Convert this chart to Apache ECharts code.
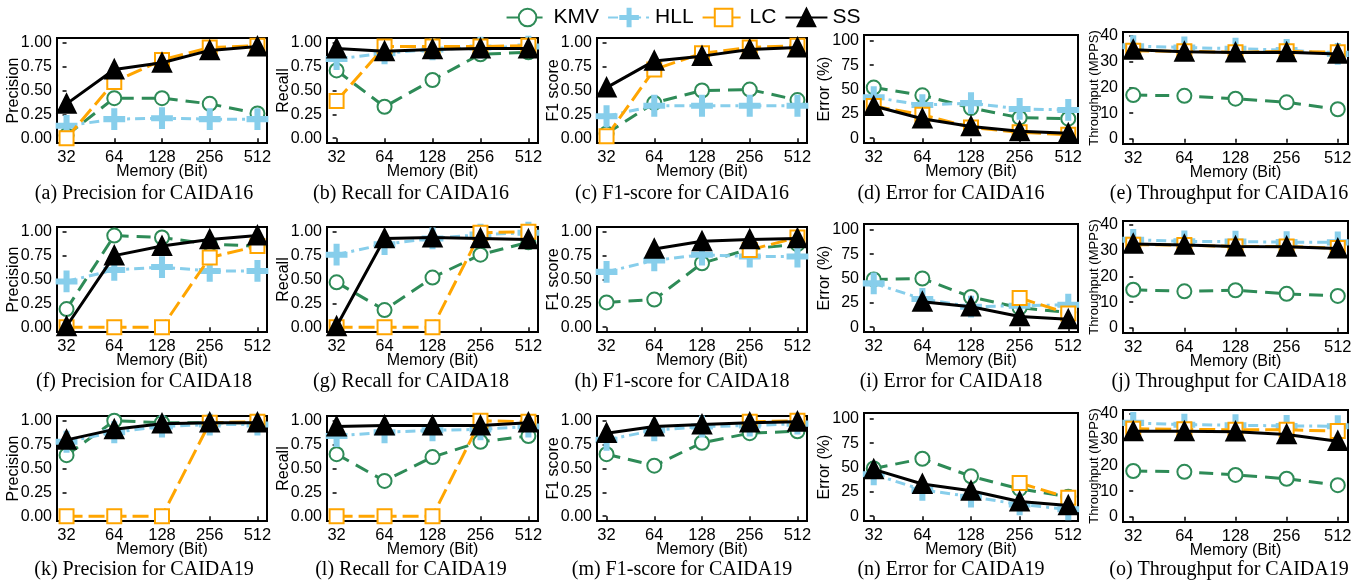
<!DOCTYPE html>
<html>
<head>
<meta charset="utf-8">
<script src="https://cdn.jsdelivr.net/npm/echarts@6/dist/echarts.min.js"></script>
<style>
  html, body { margin: 0; padding: 0; background: #fff; }
  #chart { width: 1366px; height: 583px; }
</style>
</head>
<body>
<div id="chart"></div>
<script>
// x categories (memory in bits)
const memory = ['32', '64', '128', '256', '512'];
const methods = ['KMV', 'HLL', 'LC', 'SS'];

// each panel: rows are KMV, HLL, LC, SS (null = no point)
const prec16 = [[0.03, 0.42, 0.42, 0.36, 0.26], [0.13, 0.20, 0.21, 0.20, 0.20], [0.00, 0.59, 0.82, 0.95, 0.97], [0.36, 0.72, 0.79, 0.92, 0.96]];
const rec16  = [[0.71, 0.33, 0.61, 0.88, 0.90], [0.83, 0.89, 0.93, 0.95, 0.96], [0.39, 0.96, 0.96, 0.96, 0.97], [0.94, 0.91, 0.93, 0.94, 0.94]];
const f116   = [[0.05, 0.37, 0.50, 0.51, 0.40], [0.23, 0.34, 0.34, 0.34, 0.34], [0.02, 0.72, 0.89, 0.95, 0.97], [0.53, 0.81, 0.86, 0.93, 0.95]];
const err16  = [[52, 44, 31, 21, 20], [42, 34, 36, 30, 29], [33, 24, 11, 6, 3.5], [33, 20, 12, 7, 5]];
const thr16  = [[17.0, 16.7, 15.6, 14.2, 11.5], [36.0, 35.5, 35.0, 34.5, 33.0], [34.2, 34.0, 33.6, 34.0, 33.6], [34.6, 33.8, 33.5, 33.6, 33.0]];

const prec18 = [[0.19, 0.96, 0.94, 0.87, 0.85], [0.48, 0.60, 0.63, 0.59, 0.59], [0.00, 0.00, 0.00, 0.73, 0.85], [0.01, 0.75, 0.85, 0.92, 0.96]];
const rec18  = [[0.47, 0.18, 0.52, 0.76, 0.89], [0.76, 0.87, 0.93, 0.97, 0.99], [0.00, 0.00, 0.00, 0.99, 1.00], [0.01, 0.93, 0.94, 0.93, 0.92]];
const f118   = [[0.26, 0.29, 0.67, 0.82, 0.87], [0.58, 0.70, 0.76, 0.74, 0.74], [null, null, null, 0.81, 0.94], [null, 0.82, 0.90, 0.92, 0.93]];
const err18  = [[49, 50, 31, 20, 15], [45, 29, 21, 22, 23], [null, null, null, 30, 14], [null, 26, 21, 11, 8]];
const thr18  = [[14.8, 14.2, 14.6, 13.2, 12.4], [34.2, 33.6, 33.5, 33.3, 33.2], [32.3, 32.2, 31.6, 31.6, 31.0], [32.6, 32.2, 31.6, 31.5, 30.8]];

const prec19 = [[0.64, 1.00, 0.98, 0.98, 0.98], [0.78, 0.88, 0.94, 0.96, 0.96], [0.00, 0.00, 0.00, 0.98, 0.99], [0.80, 0.91, 0.97, 0.98, 0.98]];
const rec19  = [[0.65, 0.37, 0.62, 0.78, 0.84], [0.84, 0.88, 0.90, 0.91, 0.94], [0.00, 0.00, 0.00, 1.00, 0.99], [0.94, 0.95, 0.95, 0.95, 0.98]];
const f119   = [[0.65, 0.53, 0.77, 0.87, 0.89], [0.80, 0.90, 0.94, 0.95, 0.97], [null, null, null, 0.99, 1.00], [0.87, 0.94, 0.96, 0.98, 0.99]];
const err19  = [[49, 59, 41, 28, 20], [43, 27, 20, 12, 7], [null, null, null, 34, 19], [48, 33, 26, 15, 11]];
const thr19  = [[17.8, 17.5, 16.3, 14.8, 12.3], [36.5, 35.8, 35.6, 35.3, 35.2], [34.2, 34.0, 33.8, 33.8, 33.3], [33.2, 33.2, 33.1, 32.0, 29.4]];

const panels = [
  [prec16, rec16, f116, err16, thr16],
  [prec18, rec18, f118, err18, thr18],
  [prec19, rec19, f119, err19, thr19]
];
const captions = [
  ['(a) Precision for CAIDA16', '(b) Recall for CAIDA16', '(c) F1-score for CAIDA16', '(d) Error for CAIDA16', '(e) Throughput for CAIDA16'],
  ['(f) Precision for CAIDA18', '(g) Recall for CAIDA18', '(h) F1-score for CAIDA18', '(i) Error for CAIDA18', '(j) Throughput for CAIDA18'],
  ['(k) Precision for CAIDA19', '(l) Recall for CAIDA19', '(m) F1-score for CAIDA19', '(n) Error for CAIDA19', '(o) Throughput for CAIDA19']
];
const yNames = ['Precision', 'Recall', 'F1 score', 'Error (%)', 'Throughput (MPPS)'];

// layout
const cols = [
  { left: 57, width: 210, cap: 139 },
  { left: 327, width: 211, cap: 406 },
  { left: 597, width: 210, cap: 677 },
  { left: 864, width: 214, cap: 946 },
  { left: 1123, width: 225, cap: 1224 }
];
const rowTops = [38, 227, 416];
const capTops = [179, 367, 555];

const yScales = [
  { min: -0.05, max: 1.05, ticks: [0, 0.25, 0.5, 0.75, 1], fmt: v => v.toFixed(2), dTop: 0, h: 105, gap: 35, nfs: 16 },
  { min: -0.05, max: 1.05, ticks: [0, 0.25, 0.5, 0.75, 1], fmt: v => v.toFixed(2), dTop: 0, h: 105, gap: 35, nfs: 16 },
  { min: -0.05, max: 1.05, ticks: [0, 0.25, 0.5, 0.75, 1], fmt: v => v.toFixed(2), dTop: 0, h: 105, gap: 35, nfs: 16 },
  { min: -5, max: 106, ticks: [0, 25, 50, 75, 100], fmt: v => String(v), dTop: -3, h: 108, gap: 31, nfs: 16 },
  { min: -2, max: 41.5, ticks: [0, 10, 20, 30, 40], fmt: v => String(v), dTop: -6, h: 112, gap: 22, nfs: 13 }
];

const colors = { KMV: '#2e8b57', HLL: '#87ceeb', LC: '#ffa500', SS: '#000000' };
const lineTypes = { KMV: [14, 8], HLL: [10, 5, 3, 5], LC: [16, 6], SS: 'solid' };
const symbols = {
  KMV: 'emptyCircle',
  HLL: 'path://M5.8,0H8.2V14H5.8Z M0,5.8H14V8.2H0Z',
  LC: 'emptyRect',
  SS: 'triangle'
};
const symbolSizes = { KMV: 14, HLL: 19, LC: 14, SS: 17 };

const font = 'Liberation Sans, Arial, sans-serif';
const grids = [], xAxes = [], yAxes = [], series = [], titles = [];

panels.forEach((row, r) => {
  row.forEach((data, c) => {
    const idx = grids.length;
    const ys = yScales[c];
    grids.push({
      left: cols[c].left, width: cols[c].width,
      top: rowTops[r] + ys.dTop, height: ys.h,
      show: true, borderColor: '#000', borderWidth: 2, backgroundColor: 'transparent'
    });
    xAxes.push({
      type: 'value', gridIndex: idx, min: -0.2, max: 4.2,
      name: 'Memory (Bit)', nameLocation: 'middle', nameGap: 21, nameMoveOverlap: false,
      nameTextStyle: { fontFamily: font, fontSize: 16, color: '#000' },
      axisLine: { show: false },
      axisTick: { show: true, length: 4, customValues: [0, 1, 2, 3, 4], lineStyle: { color: '#000', width: 1.5 } },
      axisLabel: { customValues: [0, 1, 2, 3, 4], formatter: v => memory[v], fontFamily: font, fontSize: 16.5, color: '#000', margin: 6 },
      splitLine: { show: false }
    });
    yAxes.push({
      type: 'value', gridIndex: idx, min: ys.min, max: ys.max,
      name: yNames[c], nameLocation: 'middle', nameGap: ys.gap, nameMoveOverlap: false,
      nameTextStyle: { fontFamily: font, fontSize: ys.nfs, color: '#000' },
      axisLine: { show: false },
      axisTick: { show: true, length: 4, customValues: ys.ticks, lineStyle: { color: '#000', width: 1.5 } },
      axisLabel: { customValues: ys.ticks, formatter: ys.fmt, fontFamily: font, fontSize: 16, color: '#000', margin: 5 },
      splitLine: { show: false }
    });
    methods.forEach((m, k) => {
      series.push({
        name: m, type: 'line', xAxisIndex: idx, yAxisIndex: idx,
        data: data[k].map((v, j) => [j, v == null ? '-' : v]),
        symbol: symbols[m], symbolSize: symbolSizes[m], showAllSymbol: true,
        lineStyle: { color: colors[m], width: 3, type: lineTypes[m] },
        itemStyle: { color: colors[m], borderColor: colors[m], borderWidth: 2.8 },
        z: 2 + k
      });
    });
    titles.push({
      text: captions[r][c], left: cols[c].cap, top: capTops[r], textAlign: 'center',
      textStyle: { fontFamily: 'Liberation Serif, Times New Roman, serif', fontSize: 20, fontWeight: 'normal', color: '#000' }
    });
  });
});

const chart = echarts.init(document.getElementById('chart'), null, { renderer: 'canvas' });
chart.setOption({
  backgroundColor: '#fff',
  animation: false,
  title: titles,
  legend: {
    data: methods, top: 2, left: 'center',
    itemWidth: 42, itemHeight: 22, itemGap: 8,
    textStyle: { fontFamily: font, fontSize: 21, color: '#000' }
  },
  grid: grids,
  xAxis: xAxes,
  yAxis: yAxes,
  series: series
});
</script>
</body>
</html>
